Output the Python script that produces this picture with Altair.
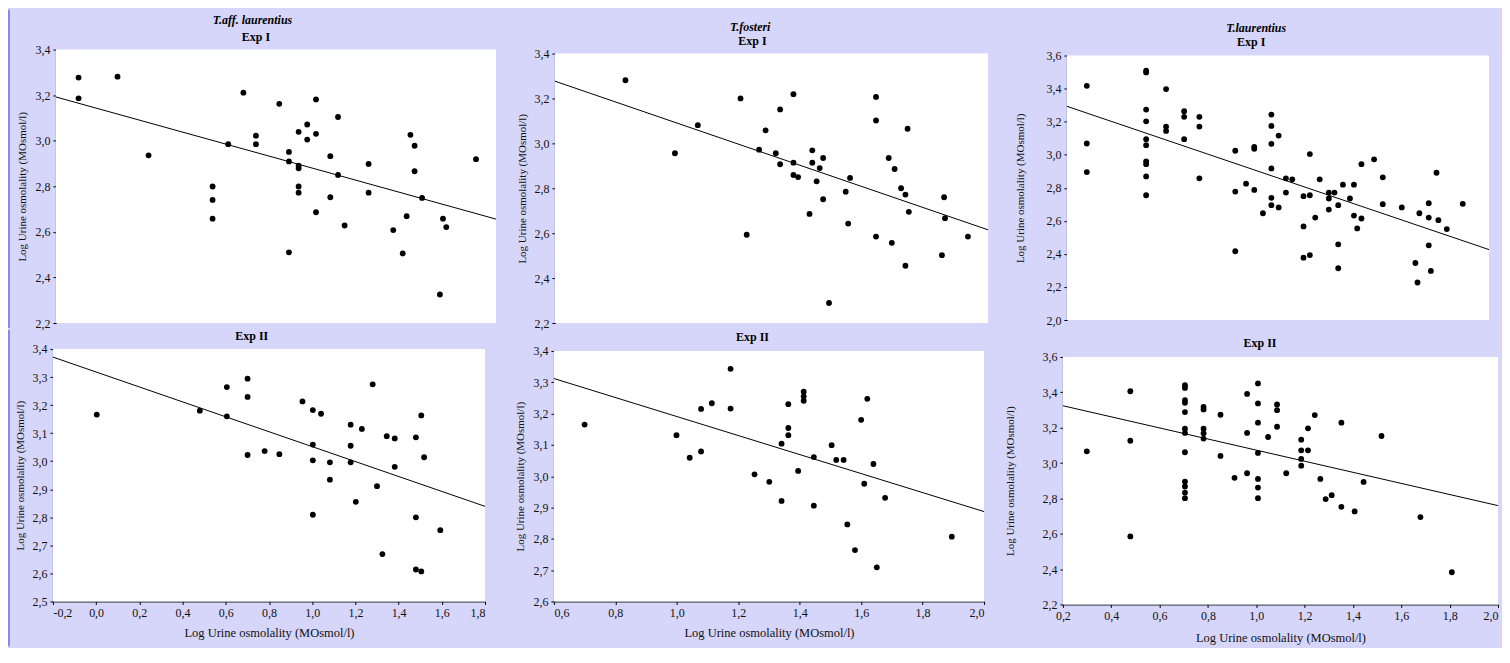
import altair as alt
import pandas as pd

FONT = "Liberation Serif"
BG = "#D6D6FA"
EDGE = "#3C3CF0"
AXIS_TITLE = "Log Urine osmolality (MOsmol/l)"

# ---------------- data ----------------
# Panel 1: T.aff. laurentius, Exp I
p1_x = [-0.097, -0.097, 0.080, 0.221, 0.512, 0.512, 0.512, 0.583, 0.652, 0.709,
        0.709, 0.815, 0.859, 0.859, 0.859, 0.903, 0.903, 0.903, 0.903, 0.903,
        0.942, 0.942, 0.982, 0.982, 0.982, 1.047, 1.047, 1.082, 1.082, 1.112,
        1.221, 1.221, 1.333, 1.376, 1.394, 1.411, 1.430, 1.430, 1.464, 1.545,
        1.559, 1.574, 1.709]
p1_y = [3.277, 3.186, 3.281, 2.936, 2.799, 2.740, 2.658, 2.985, 3.211, 3.022,
        2.985, 3.162, 2.951, 2.909, 2.510, 3.039, 2.891, 2.879, 2.799, 2.772,
        3.071, 3.005, 3.181, 3.030, 2.686, 2.932, 2.752, 3.104, 2.850, 2.628,
        2.898, 2.772, 2.608, 2.505, 2.669, 3.026, 2.978, 2.866, 2.749, 2.325,
        2.658, 2.621, 2.919]
p1_fit_x = [-0.2, 1.8]
p1_fit_y = [3.192, 2.656]

# Panel 2: T.fosteri, Exp I
p2_x = [0.828, 0.988, 1.062, 1.200, 1.220, 1.260, 1.281, 1.314, 1.328, 1.328,
        1.371, 1.371, 1.371, 1.386, 1.423, 1.432, 1.432, 1.446, 1.456, 1.467,
        1.467, 1.486, 1.540, 1.548, 1.554, 1.638, 1.638, 1.638, 1.679, 1.689,
        1.698, 1.719, 1.733, 1.733, 1.740, 1.744, 1.851, 1.858, 1.861, 1.935]
p2_y = [3.281, 2.956, 3.081, 3.200, 2.593, 2.972, 3.058, 2.956, 3.151, 2.907,
        3.219, 2.914, 2.859, 2.850, 2.686, 2.969, 2.914, 2.831, 2.890, 2.935,
        2.751, 2.289, 2.785, 2.643, 2.846, 3.207, 3.102, 2.585, 2.935, 2.557,
        2.886, 2.800, 2.772, 2.455, 3.065, 2.695, 2.502, 2.760, 2.667, 2.585]
p2_fit_x = [0.6, 2.0]
p2_fit_y = [3.277, 2.615]

# Panel 3: T.laurentius, Exp I
p3_x = [0.285, 0.285, 0.285, 0.538, 0.538, 0.538, 0.538, 0.538, 0.538, 0.538,
        0.538, 0.538, 0.538, 0.623, 0.623, 0.623, 0.700, 0.700, 0.700, 0.765,
        0.765, 0.765, 0.918, 0.918, 0.918, 0.964, 0.999, 0.999, 0.999, 1.036,
        1.072, 1.072, 1.072, 1.072, 1.072, 1.072, 1.103, 1.103, 1.134, 1.134,
        1.161, 1.209, 1.209, 1.209, 1.236, 1.236, 1.236, 1.259, 1.278, 1.317,
        1.317, 1.317, 1.341, 1.357, 1.357, 1.357, 1.377, 1.407, 1.424, 1.424,
        1.438, 1.456, 1.456, 1.510, 1.547, 1.547, 1.628, 1.686, 1.695, 1.703,
        1.743, 1.743, 1.743, 1.752, 1.776, 1.784, 1.820, 1.888]
p3_y = [3.417, 3.068, 2.895, 3.508, 3.498, 3.273, 3.202, 3.094, 3.058, 2.960,
        2.943, 2.869, 2.755, 3.397, 3.170, 3.144, 3.263, 3.229, 3.094, 3.229,
        3.170, 2.857, 3.024, 2.777, 2.416, 2.825, 3.048, 3.036, 2.787, 2.646,
        3.243, 3.174, 3.066, 2.917, 2.739, 2.695, 3.116, 2.681, 2.857, 2.771,
        2.851, 2.749, 2.566, 2.377, 3.004, 2.755, 2.393, 2.620, 2.851, 2.771,
        2.735, 2.668, 2.771, 2.695, 2.458, 2.313, 2.819, 2.735, 2.819, 2.632,
        2.554, 2.943, 2.614, 2.972, 2.863, 2.701, 2.681, 2.345, 2.227, 2.646,
        2.707, 2.620, 2.452, 2.297, 2.891, 2.604, 2.550, 2.703]
p3_fit_x = [0.2, 2.0]
p3_fit_y = [3.293, 2.426]

# Panel 4: T.aff. laurentius, Exp II
p4_x = [0.003, 0.480, 0.605, 0.605, 0.701, 0.701, 0.701, 0.780, 0.848, 0.955,
        1.003, 1.003, 1.003, 1.003, 1.041, 1.082, 1.082, 1.178, 1.178, 1.178,
        1.202, 1.230, 1.280, 1.300, 1.325, 1.345, 1.382, 1.382, 1.480, 1.480,
        1.480, 1.505, 1.505, 1.518, 1.593]
p4_y = [3.166, 3.180, 3.264, 3.160, 3.294, 3.229, 3.022, 3.036, 3.025, 3.213,
        3.182, 3.059, 3.003, 2.809, 3.169, 2.996, 2.934, 3.130, 3.055, 2.996,
        2.855, 3.115, 3.274, 2.911, 2.669, 3.089, 3.081, 2.980, 3.085, 2.800,
        2.614, 3.163, 2.607, 3.014, 2.754]
p4_fit_x = [-0.2, 1.8]
p4_fit_y = [3.371, 2.839]

# Panel 5: T.fosteri, Exp II
p5_x = [0.700, 0.999, 1.042, 1.079, 1.079, 1.114, 1.175, 1.175, 1.253, 1.301,
        1.341, 1.341, 1.363, 1.363, 1.363, 1.413, 1.413, 1.413, 1.395, 1.446,
        1.446, 1.504, 1.519, 1.543, 1.555, 1.580, 1.600, 1.610, 1.620, 1.640,
        1.651, 1.678, 1.895]
p5_y = [3.165, 3.131, 3.059, 3.215, 3.079, 3.233, 3.343, 3.216, 3.006, 2.982,
        3.104, 2.921, 3.230, 3.154, 3.131, 3.270, 3.255, 3.241, 3.017, 3.061,
        2.906, 3.099, 3.052, 3.052, 2.846, 2.764, 3.180, 2.976, 3.247, 3.039,
        2.709, 2.931, 2.807]
p5_fit_x = [0.6, 2.0]
p5_fit_y = [3.312, 2.887]

# Panel 6: T.laurentius, Exp II
p6_x = [0.299, 0.479, 0.479, 0.479, 0.705, 0.705, 0.705, 0.705, 0.705, 0.705,
        0.705, 0.705, 0.705, 0.705, 0.705, 0.705, 0.782, 0.782, 0.782, 0.782,
        0.782, 0.852, 0.852, 0.910, 0.962, 0.962, 0.962, 1.007, 1.007, 1.007,
        1.007, 1.007, 1.007, 1.007, 1.049, 1.086, 1.086, 1.086, 1.124, 1.186,
        1.186, 1.186, 1.186, 1.214, 1.214, 1.242, 1.265, 1.287, 1.312, 1.352,
        1.352, 1.407, 1.444, 1.518, 1.679, 1.809]
p6_y = [3.066, 3.406, 3.126, 2.585, 3.440, 3.425, 3.356, 3.341, 3.288, 3.194,
        3.170, 3.061, 2.895, 2.867, 2.833, 2.801, 3.318, 3.303, 3.194, 3.168,
        3.138, 3.273, 3.040, 2.916, 3.391, 3.170, 2.942, 3.450, 3.337, 3.228,
        3.057, 2.910, 2.861, 2.801, 3.147, 3.331, 3.299, 3.205, 2.942, 3.132,
        3.072, 3.023, 2.985, 3.196, 3.072, 3.271, 2.910, 2.796, 2.818, 3.228,
        2.752, 2.726, 2.893, 3.153, 2.694, 2.382]
p6_fit_x = [0.2, 2.0]
p6_fit_y = [3.324, 2.759]

# axis ticks
ticks_x_a = [-0.2, 0.0, 0.2, 0.4, 0.6, 0.8, 1.0, 1.2, 1.4, 1.6, 1.8]
ticks_x_b = [0.6, 0.8, 1.0, 1.2, 1.4, 1.6, 1.8, 2.0]
ticks_x_c = [0.2, 0.4, 0.6, 0.8, 1.0, 1.2, 1.4, 1.6, 1.8, 2.0]
ticks_y_1 = [2.2, 2.4, 2.6, 2.8, 3.0, 3.2, 3.4]
ticks_y_3 = [2.0, 2.2, 2.4, 2.6, 2.8, 3.0, 3.2, 3.4, 3.6]
ticks_y_4 = [2.5, 2.6, 2.7, 2.8, 2.9, 3.0, 3.1, 3.2, 3.3, 3.4]
ticks_y_5 = [2.6, 2.7, 2.8, 2.9, 3.0, 3.1, 3.2, 3.3, 3.4]
ticks_y_6 = [2.2, 2.4, 2.6, 2.8, 3.0, 3.2, 3.4, 3.6]

LBL = "replace(replace(format(datum.value, '.1f'), '.', ','), '\u2212', '-')"


def panel(xs, ys, fit_x, fit_y, xdom, ydom, xticks, yticks, W, HF, box, pads,
          titles, ytitle_x, xtitle_y=None, edge=False, flush=False):
    """box = (x0, x1, y0, y1): the plotting rectangle inside a W x HF frame."""
    x0, x1, y0, y1 = box
    L, T, R, B = pads
    pts = pd.DataFrame([{"x": a, "y": b} for a, b in zip(xs, ys)])
    fit = pd.DataFrame([{"x": a, "y": b} for a, b in zip(fit_x, fit_y)])
    xscale = alt.Scale(domain=xdom, range=[x0, x1], nice=False, zero=False)
    yscale = alt.Scale(domain=ydom, range=[y1, y0], nice=False, zero=False)
    if xtitle_y is None:
        xaxis = None
    else:
        kw = dict(values=xticks, labelExpr=LBL, title=AXIS_TITLE, offset=y1 - HF,
                  titleY=xtitle_y, titleBaseline="middle", titleFontSize=12.5)
        if flush:
            kw["labelAlign"] = {"condition": {"test": "datum.value >= %g" % (xdom[1] - 0.001),
                                              "value": "right"},
                                "value": "center"}
        xaxis = alt.Axis(**kw)
    yaxis = alt.Axis(values=yticks, labelExpr=LBL, title=AXIS_TITLE, offset=-x0,
                     titleX=ytitle_x, titleY=(y0 + y1) / 2, titleBaseline="middle",
                     titleAngle=270, titleFontSize=11)
    X = alt.X("x:Q", scale=xscale, axis=xaxis)
    Y = alt.Y("y:Q", scale=yscale, axis=yaxis)
    one = alt.Data(values=[{}])
    layers = [
        # invisible anchors fixing the panel's outer box
        alt.Chart(one).mark_rule(opacity=0).encode(
            x=alt.value(-L), y=alt.value(-T), y2=alt.value(HF + B)),
        alt.Chart(one).mark_rule(opacity=0).encode(
            x=alt.value(W + R), y=alt.value(-T), y2=alt.value(HF + B)),
        # white plotting area
        alt.Chart(one).mark_rect(color="white").encode(
            x=alt.value(x0), x2=alt.value(x1), y=alt.value(y0), y2=alt.value(y1)),
    ]
    if edge:
        layers.append(
            alt.Chart(one).mark_rule(color=EDGE, strokeWidth=1).encode(
                x=alt.value(-L + 1), y=alt.value(-T + 1), y2=alt.value(HF + B - 1))
        )
    layers.append(alt.Chart(pts).mark_circle(size=34, color="black", opacity=1).encode(x=X, y=Y))
    layers.append(alt.Chart(fit).mark_line(color="black", strokeWidth=1).encode(x=X, y=Y))
    for (t, st, tx, ty) in titles:
        layers.append(
            alt.Chart(one).mark_text(
                text=t, font=FONT, fontSize=12, fontWeight="bold", fontStyle=st,
                color="black", align="center", baseline="middle"
            ).encode(x=alt.value(x0 + tx), y=alt.value(y0 + ty))
        )
    return alt.layer(*layers).properties(width=W, height=HF)


# row 1 frame: 274 px high; row 2 frame: 256 px high
P1 = panel(p1_x, p1_y, p1_fit_x, p1_fit_y, [-0.2, 1.8], [2.2, 3.4], ticks_x_a, ticks_y_1,
           441, 274, (0, 441, 0, 274), (48, 41, 8, 6),
           [("T.aff. laurentius", "italic", 197, -29.7), ("Exp I", "normal", 200.5, -13)],
           -33, edge=True)
P2 = panel(p2_x, p2_y, p2_fit_x, p2_fit_y, [0.6, 2.0], [2.2, 3.4], ticks_x_b, ticks_y_1,
           434, 274, (0, 434, 4, 274), (51, 41, 10, 6),
           [("T.fosteri", "italic", 195.7, -26.3), ("Exp I", "normal", 198, -13)],
           -32)
P3 = panel(p3_x, p3_y, p3_fit_x, p3_fit_y, [0.2, 2.0], [2.0, 3.6], ticks_x_c, ticks_y_3,
           423, 274, (0, 423, 6, 271), (69, 41, 10, 6),
           [("T.laurentius", "italic", 189.7, -27.7), ("Exp I", "normal", 184.7, -13.3)],
           -46.5)
P4 = panel(p4_x, p4_y, p4_fit_x, p4_fit_y, [-0.2, 1.8], [2.5, 3.4], ticks_x_a, ticks_y_4,
           430, 256, (-3, 430, 0, 253), (48, 20, 19, 43),
           [("Exp II", "normal", 199.3, -13)],
           -32, xtitle_y=31, edge=True)
P5 = panel(p5_x, p5_y, p5_fit_x, p5_fit_y, [0.6, 2.0], [2.6, 3.4], ticks_x_b, ticks_y_5,
           430, 256, (-1, 430, 2, 253), (51, 20, 14, 43),
           [("Exp II", "normal", 199, -14.3)],
           -33.5, xtitle_y=31.3)
P6 = panel(p6_x, p6_y, p6_fit_x, p6_fit_y, [0.2, 2.0], [2.2, 3.6], ticks_x_c, ticks_y_6,
           432, 256, (-4, 432, 8, 256), (69, 20, 1, 43),
           [("Exp II", "normal", 197.5, -13.7)],
           -52, xtitle_y=33, flush=True)

row1 = alt.hconcat(P1, P2, P3, spacing=0)
row2 = alt.hconcat(P4, P5, P6, spacing=0)

chart = (
    alt.vconcat(row1, row2, spacing=0)
    .properties(background=BG, padding=0)
    .configure_view(strokeWidth=0)
    .configure_axis(
        domainColor="black", tickColor="black", labelColor="#111111",
        labelFont=FONT, labelFontSize=12, titleFont=FONT, titleColor="#111111",
        titleFontWeight="normal", grid=False, tickSize=3, labelPadding=3,
        domainWidth=1, tickWidth=1,
    )
)

chart.save("out.html", embed_options={"renderer": "svg", "actions": False})
